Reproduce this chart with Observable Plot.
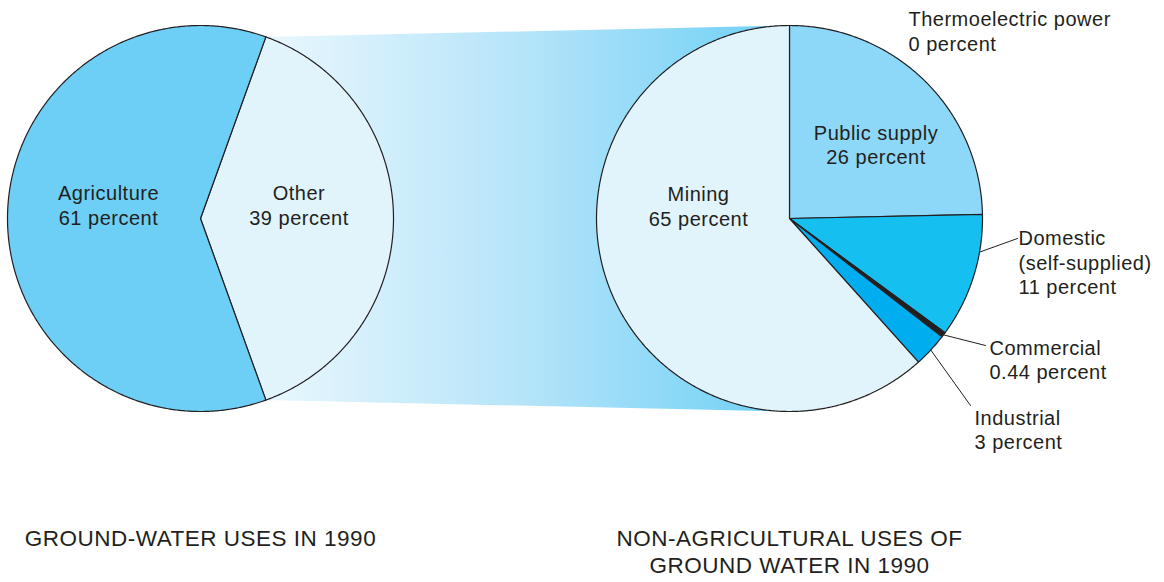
<!DOCTYPE html>
<html><head><meta charset="utf-8">
<script src="https://cdn.jsdelivr.net/npm/d3@7"></script>
<script src="https://cdn.jsdelivr.net/npm/@observablehq/plot@0.6"></script>
<style>body{margin:0;background:#fff}</style>
</head><body><div id="chart"></div>
<script>
// ---- data ----
const groundCategories = ["Other", "Agriculture"];
const groundPercent = [39, 61];
const groundColors = ["#e1f4fc", "#6dcff6"];

const nonAgCategories = ["Thermoelectric power", "Public supply", "Domestic\n(self-supplied)", "Commercial", "Industrial", "Mining"];
const nonAgPercent = [0, 26, 11, 0.44, 3, 65];
const nonAgPercentLabels = ["0 percent", "26 percent", "11 percent", "0.44 percent", "3 percent", "65 percent"];
const nonAgColors = ["#8dd8f8", "#8dd8f8", "#15c0f1", "#231f20", "#00aeef", "#e1f4fc"];

const titles = ["GROUND-WATER USES IN 1990", "NON-AGRICULTURAL USES OF\nGROUND WATER IN 1990"];

// ---- layout ----
const W = 1164, H = 582;
const leftPie = {cx: 200, cy: 218, r: 193};
const rightPie = {cx: 789, cy: 218, r: 193};
const ink = "#231f20";
// label offsets from pie centre, inside/outside
const groundLabelPos = {"Other": [98.5, -14], "Agriculture": [-92, -14]};
const nonAgLabelPos = {
  "Thermoelectric power": [119, -188, "start"],
  "Public supply": [86.5, -74.5, "middle"],
  "Domestic\n(self-supplied)": [229, 43.5, "start"],
  "Commercial": [200, 140.5, "start"],
  "Industrial": [185, 210.5, "start"],
  "Mining": [-91, -12.8, "middle"]
};
const leaders = {
  "Domestic\n(self-supplied)": {frac: 0.3, end: [228, 20]},
  "Commercial": {frac: 0.5, end: [196, 127]},
  "Industrial": {frac: 0.5, end: [181, 187]}
};

const polar = (p, a, rr = p.r) => [p.cx + rr * Math.sin(a), p.cy - rr * Math.cos(a)];

function arcPolygon(p, a0, a1, id, color) {
  const pts = [{id, color, x: p.cx, y: p.cy}];
  const n = Math.max(2, Math.ceil((a1 - a0) / (Math.PI / 360)));
  for (let i = 0; i <= n; i++) {
    const a = a0 + (a1 - a0) * i / n;
    const [x, y] = polar(p, a);
    pts.push({id, color, x, y});
  }
  return pts;
}

// left pie: "Other" slice centred on the right side
const leftStart = Math.PI / 2 - Math.PI * groundPercent[0] / 100;
const leftArcs = d3.pie().sort(null).startAngle(leftStart).endAngle(leftStart + 2 * Math.PI)(groundPercent);
const rightArcs = d3.pie().sort(null)(nonAgPercent);

const slices = [];
leftArcs.forEach((a, i) => slices.push(...arcPolygon(leftPie, a.startAngle, a.endAngle, "L" + i, groundColors[i])));
rightArcs.forEach((a, i) => { if (a.value > 0) slices.push(...arcPolygon(rightPie, a.startAngle, a.endAngle, "R" + i, nonAgColors[i])); });

// connecting band from "Other" slice to the right pie
const otherArc = leftArcs[0];
const [btx, bty] = polar(leftPie, otherArc.startAngle);
const [bbx, bby] = polar(leftPie, otherArc.endAngle);
const band = [
  {x: btx, y: bty}, {x: rightPie.cx, y: rightPie.cy - rightPie.r},
  {x: rightPie.cx, y: rightPie.cy + rightPie.r}, {x: bbx, y: bby}
];

// labels
const centerLabels = [];
groundCategories.forEach((c, i) => {
  const [dx, dy] = groundLabelPos[c];
  centerLabels.push({x: leftPie.cx + dx, y: leftPie.cy + dy, text: `${c}\n${groundPercent[i]} percent`});
});
const startLabels = [];
nonAgCategories.forEach((c, i) => {
  const [dx, dy, anchor] = nonAgLabelPos[c];
  const d = {x: rightPie.cx + dx, y: rightPie.cy + dy, text: `${c}\n${nonAgPercentLabels[i]}`};
  (anchor === "middle" ? centerLabels : startLabels).push(d);
});

const leaderPts = [];
nonAgCategories.forEach((c, i) => {
  const l = leaders[c]; if (!l) return;
  const a = rightArcs[i];
  const [x0, y0] = polar(rightPie, a.startAngle + (a.endAngle - a.startAngle) * l.frac);
  leaderPts.push({id: c, x: x0, y: y0}, {id: c, x: rightPie.cx + l.end[0], y: rightPie.cy + l.end[1]});
});

const titleData = [
  {x: leftPie.cx, y: leftPie.cy + leftPie.r + 115, text: titles[0]},
  {x: rightPie.cx, y: rightPie.cy + rightPie.r + 115, text: titles[1]}
];

const plot = Plot.plot({
  width: W, height: H, margin: 0,
  x: {domain: [0, W], range: [0, W], axis: null},
  y: {domain: [0, H], range: [0, H], axis: null},
  color: {type: "identity"},
  style: {fontFamily: "'Liberation Sans', Arial, sans-serif", letterSpacing: "0.5px", background: "#fff"},
  marks: [
    Plot.line(band, {x: "x", y: "y", fill: "url(#bandGrad)", stroke: "none", curve: "linear-closed"}),
    Plot.line(slices, {x: "x", y: "y", z: "id", fill: "color", stroke: ink, strokeWidth: 1.2, strokeLinejoin: "round", curve: "linear-closed"}),
    Plot.line(leaderPts, {x: "x", y: "y", z: "id", stroke: ink, strokeWidth: 1}),
    Plot.text(centerLabels, {x: "x", y: "y", text: "text", fontSize: 20, lineHeight: 1.225, fill: ink, textAnchor: "middle", lineAnchor: "middle"}),
    Plot.text(startLabels, {x: "x", y: "y", text: "text", fontSize: 20, lineHeight: 1.225, fill: ink, textAnchor: "start", lineAnchor: "middle"}),
    Plot.text(titleData, {x: "x", y: "y", text: "text", fontSize: 22.5, lineHeight: 1.2, fill: ink, textAnchor: "middle", lineAnchor: "top", ariaLabel: "titles"})
  ]
});

// gradient definition for the band
const svg = d3.select(plot);
const defs = svg.insert("defs", ":first-child");
const grad = defs.append("linearGradient").attr("id", "bandGrad")
  .attr("gradientUnits", "userSpaceOnUse")
  .attr("x1", btx).attr("y1", 0).attr("x2", rightPie.cx).attr("y2", 0);
grad.append("stop").attr("offset", 0).attr("stop-color", "#e9f7fd");
grad.append("stop").attr("offset", 0.5).attr("stop-color", "#b4e4f9");
grad.append("stop").attr("offset", 1).attr("stop-color", "#6dcff6");
svg.selectAll('g[aria-label="titles"]').style("letter-spacing", "0.9px");

document.getElementById("chart").appendChild(plot);
</script>
</body></html>
